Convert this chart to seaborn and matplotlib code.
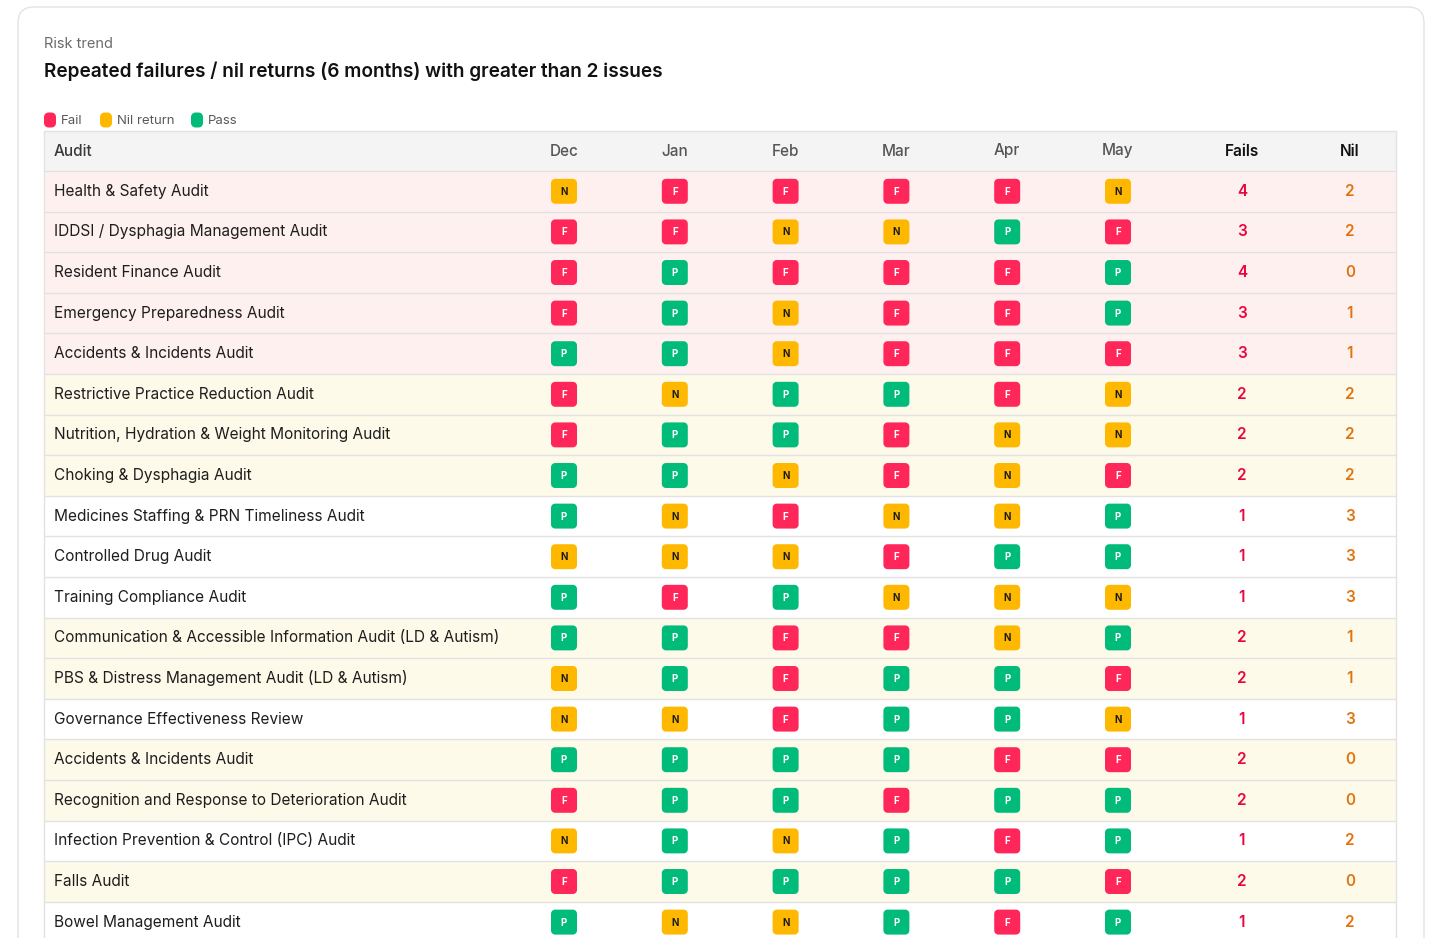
import numpy as np
import pandas as pd
import matplotlib
matplotlib.use("Agg")
import matplotlib.pyplot as plt
from matplotlib.path import Path
from matplotlib.patches import FancyBboxPatch
import seaborn as sns

# ------------------------------------------------------------
# data
# ------------------------------------------------------------
months = ["Dec", "Jan", "Feb", "Mar", "Apr", "May"]

audits = [
    "Health & Safety Audit",
    "IDDSI / Dysphagia Management Audit",
    "Resident Finance Audit",
    "Emergency Preparedness Audit",
    "Accidents & Incidents Audit",
    "Restrictive Practice Reduction Audit",
    "Nutrition, Hydration & Weight Monitoring Audit",
    "Choking & Dysphagia Audit",
    "Medicines Staffing & PRN Timeliness Audit",
    "Controlled Drug Audit",
    "Training Compliance Audit",
    "Communication & Accessible Information Audit (LD & Autism)",
    "PBS & Distress Management Audit (LD & Autism)",
    "Governance Effectiveness Review",
    "Accidents & Incidents Audit",
    "Recognition and Response to Deterioration Audit",
    "Infection Prevention & Control (IPC) Audit",
    "Falls Audit",
    "Bowel Management Audit",
]

statuses = [
    "NFFFFN",
    "FFNNPF",
    "FPFFFP",
    "FPNFFP",
    "PPNFFF",
    "FNPPFN",
    "FPPFNN",
    "PPNFNF",
    "PNFNNP",
    "NNNFPP",
    "PFPNNN",
    "PPFFNP",
    "NPFPPF",
    "NNFPPN",
    "PPPPFF",
    "FPPFPP",
    "NPNPFP",
    "FPPPPF",
    "PNNPFP",
]

fails = [4, 3, 4, 3, 3, 2, 2, 2, 1, 1, 1, 2, 2, 1, 2, 2, 1, 2, 1]
nils = [2, 2, 0, 1, 1, 2, 2, 2, 3, 3, 3, 1, 1, 3, 0, 0, 2, 0, 2]

legend_labels = ["Fail", "Nil return", "Pass"]

# ------------------------------------------------------------
# style
# ------------------------------------------------------------
STATUS_COL = {"F": "#ff2659", "N": "#ffb800", "P": "#00bb7a"}
LETTER_COL = {"F": "white", "N": "#1a1a1a", "P": "white"}
FAILS_COL = "#e8073f"
NIL_COL = "#e2740f"
ROW_BG = {"high": "#fff0f0", "mid": "#fdfaea", "low": "#ffffff"}

sns.set_theme(style="white")
plt.rcParams["font.family"] = ["Inter", "DejaVu Sans"]

W, H = 1450, 938
fig = plt.figure(figsize=(W / 100, H / 100), dpi=100)
ax = fig.add_axes([0, 0, 1, 1])

# layout (pixels)
TBL_L, TBL_R = 44, 1396
HEAD_TOP, HEAD_BOT = 131, 171
ROW_H = 40.6
COL0, COL_STEP = 564, 110.8
FAILS_X, NIL_X = 1242, 1350
NAME_X = 54

n_rows = len(audits)
row_tops = HEAD_BOT + ROW_H * np.arange(n_rows)
row_mid = row_tops + ROW_H / 2
month_x = COL0 + COL_STEP * np.arange(len(months))

# card
card = FancyBboxPatch((18, 7), 1406, 1100, boxstyle="round,pad=0,rounding_size=16",
                      facecolor="white", edgecolor="#e3e3e3", linewidth=1.0, zorder=0)
ax.add_patch(card)

# titles
ax.text(44, 44, "Risk trend", fontsize=10.5, color="#6b6b6b", va="center", ha="left")
ax.text(44, 71, "Repeated failures / nil returns (6 months) with greater than 2 issues",
        fontsize=13.7, color="#111111", weight="semibold", va="center", ha="left")

# row backgrounds
def band(f):
    if f >= 3:
        return ROW_BG["high"]
    if f == 2:
        return ROW_BG["mid"]
    return ROW_BG["low"]

ax.barh(HEAD_TOP + (HEAD_BOT - HEAD_TOP) / 2, TBL_R - TBL_L, height=HEAD_BOT - HEAD_TOP,
        left=TBL_L, color="#f4f4f4", linewidth=0, zorder=1)
ax.barh(row_mid, TBL_R - TBL_L, height=ROW_H, left=TBL_L,
        color=[band(f) for f in fails], linewidth=0, zorder=1)
ax.hlines(np.r_[HEAD_TOP, HEAD_BOT, row_tops[1:]], TBL_L, TBL_R,
          color="#e2e2e2", linewidth=1.0, zorder=2)
ax.vlines([TBL_L, TBL_R], HEAD_TOP, H + 5, color="#e2e2e2", linewidth=1.0, zorder=2)

# header
hy = (HEAD_TOP + HEAD_BOT) / 2
ax.text(NAME_X, hy, "Audit", fontsize=11, color="#3a3a3a", weight="medium", va="center")
for m, x in zip(months, month_x):
    ax.text(x, hy, m, fontsize=11, color="#555555", weight="medium", va="center", ha="center")
ax.text(FAILS_X, hy, "Fails", fontsize=11, color="#111111", weight="semibold", va="center", ha="center")
ax.text(NIL_X, hy, "Nil", fontsize=11, color="#111111", weight="semibold", va="center", ha="center")

# rounded rectangle marker
def rounded_rect(w, h, r, n=8):
    pts = []
    corners = [(w / 2 - r, h / 2 - r, 0), (-w / 2 + r, h / 2 - r, 90),
               (-w / 2 + r, -h / 2 + r, 180), (w / 2 - r, -h / 2 + r, 270)]
    for cx, cy, a0 in corners:
        for a in np.linspace(a0, a0 + 90, n):
            t = np.deg2rad(a)
            pts.append((cx + r * np.cos(t), cy + r * np.sin(t)))
    pts.append(pts[0])
    codes = [Path.MOVETO] + [Path.LINETO] * (len(pts) - 2) + [Path.CLOSEPOLY]
    return Path(pts, codes)

badge = rounded_rect(1.0, 0.96, 0.16)
badge_px = 26
badge_s = (badge_px * 72 / 100) ** 2

cells = pd.DataFrame(
    [(month_x[j], row_mid[i], s) for i, row in enumerate(statuses) for j, s in enumerate(row)],
    columns=["x", "y", "status"],
)
sns.scatterplot(data=cells, x="x", y="y", hue="status", palette=STATUS_COL,
                marker=badge, s=badge_s, linewidth=0, edgecolor="none",
                legend=False, ax=ax, zorder=3)

for _, c in cells.iterrows():
    ax.text(c["x"], c["y"] + 0.5, c["status"], fontsize=7, weight="bold",
            color=LETTER_COL[c["status"]], ha="center", va="center", zorder=4)

# names and counts
for i in range(n_rows):
    ax.text(NAME_X, row_mid[i], audits[i], fontsize=11.1, color="#1e1e1e", va="center", ha="left", zorder=4)
    ax.text(FAILS_X, row_mid[i], str(fails[i]), fontsize=11, color=FAILS_COL, weight="semibold",
            va="center", ha="center", zorder=4)
    ax.text(NIL_X, row_mid[i], str(nils[i]), fontsize=11, color=NIL_COL, weight="semibold",
            va="center", ha="center", zorder=4)

# legend
leg_mark = rounded_rect(0.8, 1.0, 0.3)
leg_s = (15 * 72 / 100) ** 2
leg_x = [50, 106, 197]
leg_df = pd.DataFrame({"x": leg_x, "y": [120] * 3, "status": ["F", "N", "P"]})
sns.scatterplot(data=leg_df, x="x", y="y", hue="status", palette=STATUS_COL,
                marker=leg_mark, s=leg_s, linewidth=0, edgecolor="none",
                legend=False, ax=ax, zorder=3)
for x, lab in zip(leg_x, legend_labels):
    ax.text(x + 11, 120.5, lab, fontsize=9.5, color="#5a5a5a", va="center", ha="left")

ax.set_xlim(0, W)
ax.set_ylim(H, 0)
ax.axis("off")

fig.savefig("out.png", dpi=100)
